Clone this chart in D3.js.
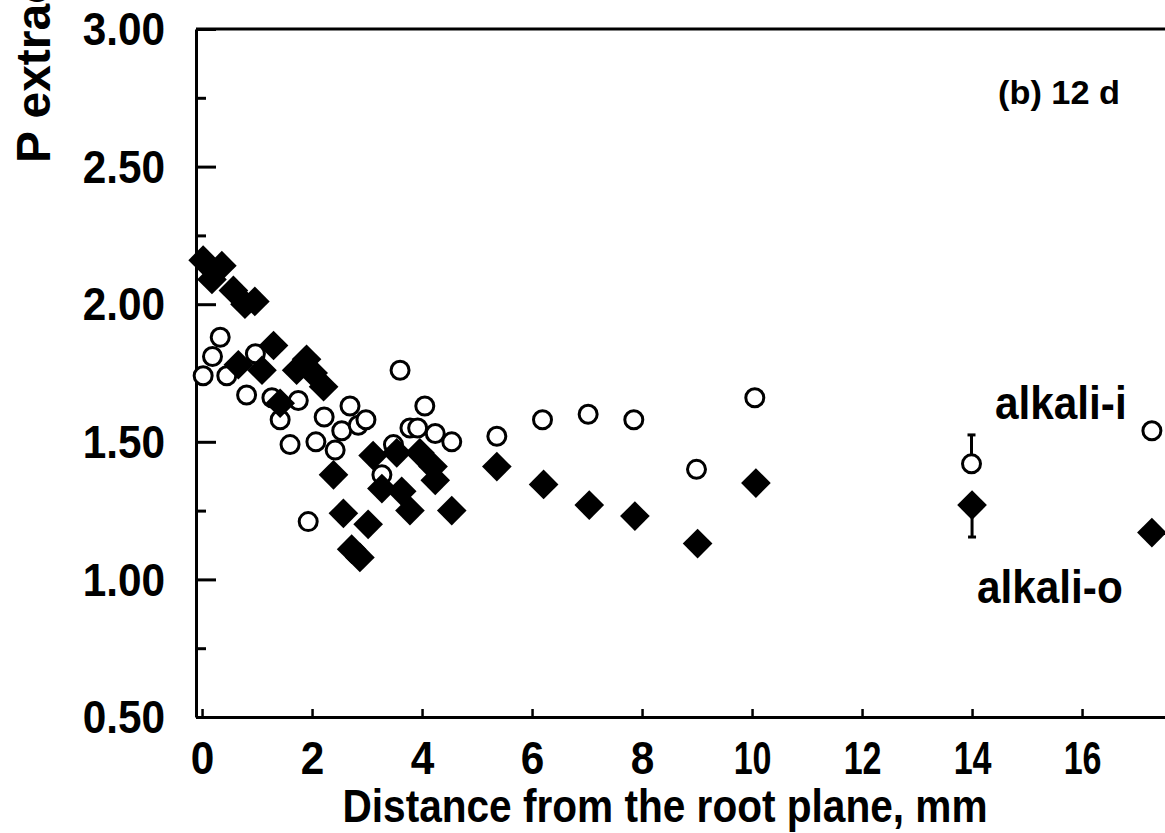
<!DOCTYPE html>
<html>
<head>
<meta charset="utf-8">
<script src="https://cdn.jsdelivr.net/npm/d3@7"></script>
<style>
  html, body { margin: 0; padding: 0; background: #fff; }
  svg { display: block; }
  text { font-family: "Liberation Sans", Arial, sans-serif; font-weight: bold; fill: #000; }
</style>
</head>
<body>
<svg id="chart" width="1165" height="833"></svg>
<script>
// ---- data ----
const alkaliIx = [0.02, 0.19, 0.33, 0.45, 0.81, 0.97, 1.27, 1.42, 1.60, 1.75, 1.93, 2.07, 2.22, 2.42, 2.54, 2.69, 2.84, 2.98, 3.27, 3.48, 3.60, 3.78, 3.92, 4.05, 4.24, 4.54, 5.36, 6.19, 7.02, 7.85, 8.99, 10.05, 13.99, 17.27];
const alkaliIy = [1.74, 1.81, 1.88, 1.74, 1.67, 1.82, 1.66, 1.58, 1.49, 1.65, 1.21, 1.50, 1.59, 1.47, 1.54, 1.63, 1.56, 1.58, 1.38, 1.49, 1.76, 1.55, 1.55, 1.63, 1.53, 1.50, 1.52, 1.58, 1.60, 1.58, 1.40, 1.66, 1.42, 1.54];
const alkaliOx = [0.02, 0.18, 0.36, 0.57, 0.78, 0.96, 0.66, 1.09, 1.30, 1.42, 1.72, 1.90, 2.02, 2.21, 2.39, 2.57, 2.72, 2.87, 3.02, 3.11, 3.27, 3.54, 3.63, 3.78, 3.96, 4.20, 4.24, 4.54, 5.36, 6.21, 7.04, 7.87, 9.01, 10.07, 14.00, 17.27];
const alkaliOy = [2.16, 2.09, 2.14, 2.05, 2.00, 2.01, 1.78, 1.76, 1.85, 1.64, 1.76, 1.80, 1.75, 1.70, 1.38, 1.24, 1.11, 1.08, 1.20, 1.45, 1.33, 1.46, 1.32, 1.25, 1.46, 1.41, 1.36, 1.25, 1.41, 1.345, 1.27, 1.23, 1.13, 1.35, 1.27, 1.17];
// error bars: [x, y, end]
const errI = [[13.99, 1.42, 1.525]];
const errO = [[14.00, 1.27, 1.154]];
const xTickValues = [0, 2, 4, 6, 8, 10, 12, 14, 16];
const yTickValues = [0.5, 1.0, 1.5, 2.0, 2.5, 3.0];
const yMinorValues = [0.75, 1.25, 1.75, 2.25, 2.75];
const xTitle = "Distance from the root plane, mm";
const yTitle = "P extracted";
const panelLabel = "(b) 12 d";
const seriesLabels = ["alkali-i", "alkali-o"];

// ---- layout ----
const svg = d3.select("#chart");
const pLeft = 196, pTop = 29, pBottom = 717;
const x = d3.scaleLinear().domain([-0.11, 17.6]).range([pLeft, pLeft + 17.71 * 55]);
const y = d3.scaleLinear().domain([0.5, 3.0]).range([pBottom, pTop]);

function squeeze(sel, f) {
  sel.each(function () {
    const n = this.getComputedTextLength();
    d3.select(this).attr("textLength", n * f).attr("lengthAdjust", "spacingAndGlyphs");
  });
}

// frame line (top)
svg.append("line").attr("x1", pLeft).attr("x2", 1165).attr("y1", pTop).attr("y2", pTop)
  .attr("stroke", "#000").attr("stroke-width", 3);

// y axis (major)
const yAxis = d3.axisLeft(y).tickValues(yTickValues).tickFormat(d3.format(".2f"))
  .tickSizeInner(-20).tickSizeOuter(0).tickPadding(31);
const gy = svg.append("g").attr("transform", `translate(${pLeft},0)`).call(yAxis);
gy.select(".domain").attr("stroke-width", 3);
gy.selectAll(".tick line").attr("stroke-width", 3);
gy.selectAll(".tick text").attr("font-size", 46).attr("dy", "0.34em")
  .style("font-family", '"Liberation Sans", Arial, sans-serif').style("font-weight", "bold");
squeeze(gy.selectAll(".tick text"), 0.92);
// y minor ticks
const yMinor = d3.axisLeft(y).tickValues(yMinorValues).tickFormat("").tickSizeInner(-10).tickSizeOuter(0);
const gym = svg.append("g").attr("transform", `translate(${pLeft},0)`).call(yMinor);
gym.select(".domain").remove();
gym.selectAll(".tick line").attr("stroke-width", 3);

// x axis
const xAxis = d3.axisBottom(x).tickValues(xTickValues).tickFormat(d3.format("d"))
  .tickSizeInner(-8).tickSizeOuter(0).tickPadding(24);
const gx = svg.append("g").attr("transform", `translate(0,${pBottom})`).call(xAxis);
gx.select(".domain").attr("d", `M${pLeft},0.5H1165`).attr("stroke-width", 3);
gx.selectAll(".tick line").attr("stroke-width", 2.5);
gx.selectAll(".tick text").attr("font-size", 46)
  .style("font-family", '"Liberation Sans", Arial, sans-serif').style("font-weight", "bold");
gx.selectAll(".tick text").each(function (d) {
  const n = this.getComputedTextLength();
  const f = String(d).length > 1 ? 0.74 : 0.92;
  d3.select(this).attr("textLength", n * f).attr("lengthAdjust", "spacingAndGlyphs");
});

// titles
svg.append("text").attr("x", 665).attr("y", 822).attr("text-anchor", "middle")
  .attr("font-size", 46).text(xTitle)
  .attr("textLength", 645).attr("lengthAdjust", "spacingAndGlyphs");
svg.append("text").attr("transform", "translate(50,163) rotate(-90)")
  .attr("text-anchor", "start").attr("font-size", 48).text(yTitle);

svg.append("text").attr("x", 998).attr("y", 104).attr("font-size", 33).text(panelLabel)
  .attr("textLength", 122).attr("lengthAdjust", "spacingAndGlyphs");
const li = svg.append("text").attr("x", 995).attr("y", 419).attr("font-size", 47).text(seriesLabels[0]);
squeeze(li, 0.9);
const lo = svg.append("text").attr("x", 977).attr("y", 603).attr("font-size", 47).text(seriesLabels[1]);
squeeze(lo, 0.9);

// data groups
const plot = svg.append("g");
const dataI = alkaliIx.map((v, i) => ({ x: v, y: alkaliIy[i] }));
const dataO = alkaliOx.map((v, i) => ({ x: v, y: alkaliOy[i] }));

// error bars
function drawErr(arr) {
  arr.forEach(([ex, ey, ee]) => {
    plot.append("line").attr("x1", x(ex)).attr("x2", x(ex)).attr("y1", y(ey)).attr("y2", y(ee))
      .attr("stroke", "#000").attr("stroke-width", 3);
    plot.append("line").attr("x1", x(ex) - 4).attr("x2", x(ex) + 4).attr("y1", y(ee)).attr("y2", y(ee))
      .attr("stroke", "#000").attr("stroke-width", 3);
  });
}
drawErr(errI);
drawErr(errO);

plot.selectAll("circle.i").data(dataI).join("circle").attr("class", "i")
  .attr("cx", d => x(d.x)).attr("cy", d => y(d.y)).attr("r", 9)
  .attr("fill", "#fff").attr("stroke", "#000").attr("stroke-width", 3);

const diamond = d3.symbol().type(d3.symbolSquare).size(440);
plot.selectAll("path.o").data(dataO).join("path").attr("class", "o")
  .attr("d", diamond)
  .attr("transform", d => `translate(${x(d.x)},${y(d.y)}) rotate(45)`)
  .attr("fill", "#000");
</script>
</body>
</html>
